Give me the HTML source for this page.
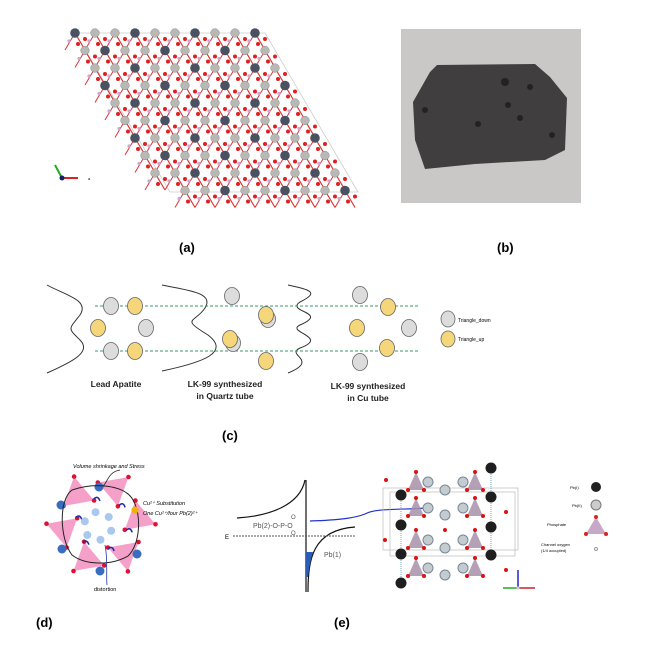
<!DOCTYPE html>
<html><head><style>
body{margin:0;background:#fff;width:660px;height:647px;overflow:hidden}
svg{display:block;font-family:"Liberation Sans",sans-serif}
</style></head><body>
<svg id="s" width="660" height="647" viewBox="0 0 660 647">
<g id="lat"></g>
<line x1="62" y1="178" x2="78" y2="178" stroke="#d22" stroke-width="2"/>
<line x1="62" y1="178" x2="55" y2="165" stroke="#2a2" stroke-width="2"/>
<circle cx="62" cy="178" r="2.5" fill="#126"/>
<text x="88" y="180" font-size="4">a</text>
<rect x="401" y="29" width="180" height="174" fill="#c9c8c6"/>
<polygon points="430,72 437,65 535,64 550,77 567,98 565,150 545,160 475,164 425,169 415,140 413,102" fill="#403e3e"/>
<g fill="#232222"><circle cx="505" cy="82" r="4"/><circle cx="508" cy="105" r="3"/><circle cx="520" cy="118" r="3"/><circle cx="478" cy="124" r="3"/><circle cx="552" cy="135" r="3"/><circle cx="530" cy="87" r="3"/><circle cx="425" cy="110" r="3"/></g>
<text x="179" y="252" font-size="13" font-weight="bold">(a)</text>
<text x="497" y="252" font-size="13" font-weight="bold">(b)</text>
<g fill="none" stroke="#333" stroke-width="1">
<path d="M47,285 C65,295 90,300 80,315 C68,330 68,328 80,340 C92,352 72,362 47,373"/>
<path d="M162,285 C185,290 215,292 205,308 C195,323 180,318 208,335 C230,352 205,362 162,371"/>
<path d="M288,285 C310,290 320,292 300,302 C285,312 330,312 300,325 C285,332 330,337 300,348 C285,355 320,360 288,373"/>
</g>
<g stroke="#3a9a6a" stroke-dasharray="3,2" stroke-width="1"><line x1="95" y1="306" x2="418" y2="306"/><line x1="95" y1="351" x2="418" y2="351"/></g>
<g stroke="#666" stroke-width="0.8">
<g fill="#dcdcdc"><ellipse cx="111" cy="306" rx="7.5" ry="8.5"/><ellipse cx="146" cy="328" rx="7.5" ry="8.5"/><ellipse cx="111" cy="351" rx="7.5" ry="8.5"/><ellipse cx="232" cy="296" rx="7.5" ry="8.5"/><ellipse cx="268" cy="319" rx="7.5" ry="8.5"/><ellipse cx="233" cy="343" rx="7.5" ry="8.5"/><ellipse cx="360" cy="295" rx="7.5" ry="8.5"/><ellipse cx="409" cy="328" rx="7.5" ry="8.5"/><ellipse cx="360" cy="362" rx="7.5" ry="8.5"/><ellipse cx="448" cy="319" rx="7" ry="8"/></g>
<g fill="#f5d67a"><ellipse cx="135" cy="306" rx="7.5" ry="8.5"/><ellipse cx="98" cy="328" rx="7.5" ry="8.5"/><ellipse cx="135" cy="351" rx="7.5" ry="8.5"/><ellipse cx="266" cy="315" rx="7.5" ry="8.5"/><ellipse cx="230" cy="339" rx="7.5" ry="8.5"/><ellipse cx="266" cy="361" rx="7.5" ry="8.5"/><ellipse cx="388" cy="307" rx="7.5" ry="8.5"/><ellipse cx="357" cy="328" rx="7.5" ry="8.5"/><ellipse cx="387" cy="348" rx="7.5" ry="8.5"/><ellipse cx="448" cy="339" rx="7" ry="8"/></g>
</g>
<text x="458" y="322" font-size="5">Triangle_down</text>
<text x="458" y="341" font-size="5">Triangle_up</text>
<g font-size="8.5" font-weight="bold" fill="#222" text-anchor="middle">
<text x="116" y="387">Lead Apatite</text>
<text x="225" y="387">LK-99 synthesized</text><text x="225" y="399">in Quartz tube</text>
<text x="368" y="389">LK-99 synthesized</text><text x="368" y="401">in Cu tube</text>
</g>
<text x="222" y="440" font-size="13" font-weight="bold">(c)</text>
<g id="dd"></g>
<path d="M72,490 C95,482 125,485 133,500 C142,515 140,545 128,556 C110,566 85,565 72,555 C60,540 58,500 72,490Z" fill="none" stroke="#222" stroke-width="1"/>
<path d="M120,470 C108,472 108,482 103,486" fill="none" stroke="#222" stroke-width="0.8"/>
<path d="M105,545 C108,560 106,575 107,585" fill="none" stroke="#2233aa" stroke-width="0.8"/>
<text x="73" y="468" font-size="5.5" font-style="italic">Volume shrinkage and Stress</text>
<text x="143" y="505" font-size="5.5" font-style="italic">Cu²⁺ Substitution</text>
<text x="143" y="515" font-size="5.5" font-style="italic">One Cu²⁺/four Pb(2)²⁺</text>
<circle cx="135" cy="510" r="3.5" fill="#f0b400"/>
<text x="94" y="591" font-size="5.5">distortion</text>
<text x="36" y="627" font-size="13" font-weight="bold">(d)</text>
<line x1="306" y1="480" x2="306" y2="592" stroke="#111" stroke-width="1.2"/>
<path d="M237,518 C270,516 300,505 305,480" fill="none" stroke="#111" stroke-width="1.2"/>
<path d="M308,592 C308,560 312,530 355,527" fill="none" stroke="#111" stroke-width="1.2"/>
<path d="M306,552 L313,552 C310,562 309,570 308,577 L306,577Z" fill="#2a5db5"/>
<line x1="233" y1="536" x2="356" y2="536" stroke="#555" stroke-dasharray="2,1"/>
<text x="225" y="539" font-size="6">E</text>
<text x="253" y="528" font-size="7" fill="#555">Pb(2)-O-P-O</text>
<text x="291" y="519" font-size="6" fill="#555">O</text><text x="291" y="535" font-size="6" fill="#555">O</text>
<text x="324" y="557" font-size="7" fill="#555">Pb(1)</text>
<path d="M310,521 C340,520 355,518 365,514 C375,508 400,510 427,508" fill="none" stroke="#2233cc" stroke-width="1.2"/>
<g fill="none" stroke="#bbb" stroke-width="0.7"><rect x="383" y="488" width="135" height="62"/><rect x="390" y="492" width="125" height="64"/></g>
<g id="cr"></g>
<line x1="518" y1="588" x2="518" y2="570" stroke="#22c" stroke-width="1.5"/>
<line x1="518" y1="588" x2="535" y2="588" stroke="#c22" stroke-width="1.5"/>
<line x1="518" y1="588" x2="503" y2="588" stroke="#2a2" stroke-width="1.5"/>
<circle cx="518" cy="588" r="1.5" fill="#ccd"/>
<text x="570" y="489" font-size="4">Pb(I)</text><circle cx="596" cy="487" r="5" fill="#222"/>
<text x="572" y="507" font-size="4">Pb(II)</text><circle cx="596" cy="505" r="5" fill="#ccc" stroke="#777"/>
<text x="547" y="526" font-size="4">Phosphate</text>
<polygon points="596,517 586,534 606,534" fill="#c8a8c8"/>
<circle cx="596" cy="517" r="2" fill="#d22"/><circle cx="586" cy="534" r="2" fill="#d22"/><circle cx="606" cy="534" r="2" fill="#d22"/>
<text x="541" y="546" font-size="4">Channel oxygen</text><text x="541" y="552" font-size="4">(1/4 occupied)</text>
<circle cx="596" cy="549" r="1.5" fill="#fff" stroke="#999"/>
<text x="334" y="627" font-size="13" font-weight="bold">(e)</text>
</svg>
<script>
var NS="http://www.w3.org/2000/svg";
function el(p,t,a){var e=document.createElementNS(NS,t);for(var k in a)e.setAttribute(k,a[k]);p.appendChild(e);return e}
var L=document.getElementById("lat");
function inP(x,y){var t=(y-33)/159;if(t<-0.02||t>1.02)return false;var xl=75+95*t;return x>xl-4&&x<xl+194;}
el(L,"polygon",{points:"75,33 265,33 358,192 170,192",fill:"none",stroke:"#ccc","stroke-width":"0.8"});
var pts=[];
for(var j=0;j<10;j++)for(var i=-6;i<14;i++){var x=75+i*20+j*10,y=33+j*17.5;if(inP(x,y))pts.push([x,y,((i-j)%3+3)%3==0]);}
pts.forEach(function(p){
 el(L,"line",{x1:p[0],y1:p[1],x2:p[0]+10,y2:p[1]+17,stroke:"#d33","stroke-width":"1.2"});
 el(L,"line",{x1:p[0],y1:p[1],x2:p[0]-10,y2:p[1]+17,stroke:"#d33","stroke-width":"1"});
});
pts.forEach(function(p){
 el(L,"circle",{cx:p[0]+10,cy:p[1]+6,r:2,fill:"#e02020"});
 el(L,"circle",{cx:p[0]+3,cy:p[1]+11,r:2,fill:"#e02020"});
 el(L,"circle",{cx:p[0]-6,cy:p[1]+8,r:1.6,fill:"#c9a8d6"});
 if(p[2])el(L,"circle",{cx:p[0],cy:p[1],r:4.8,fill:"#4a5262"});
 else el(L,"circle",{cx:p[0],cy:p[1],r:4.3,fill:"#b8b8b4",stroke:"#888","stroke-width":"0.5"});
});
var D=document.getElementById("dd"),cx=101,cy=524;
for(var k=0;k<6;k++){var a=k*Math.PI/3-1.2,r=38;var x=cx+r*Math.cos(a),y=cy+r*Math.sin(a);
 var q=[];for(var m=0;m<3;m++){var b=a+m*2.094+0.5;q.push((x+18*Math.cos(b)).toFixed(1)+","+(y+18*Math.sin(b)).toFixed(1));}
 el(D,"polygon",{points:q.join(" "),fill:"#f4a0c8"});
 q.forEach(function(s){var c=s.split(",");el(D,"circle",{cx:c[0],cy:c[1],r:2.3,fill:"#e01030"});});
 el(D,"path",{d:"M"+(cx+26*Math.cos(a+0.4))+","+(cy+26*Math.sin(a+0.4))+" q4,-4 6,2",stroke:"#1a2aaa",fill:"none","stroke-width":"1.5"});
 el(D,"circle",{cx:cx-3+14*Math.cos(a+0.5),cy:cy+2+14*Math.sin(a+0.5),r:4,fill:"#a8c8ee"});
}
[[99,487],[61,505],[62,549],[100,571],[137,554]].forEach(function(p){el(D,"circle",{cx:p[0],cy:p[1],r:4.5,fill:"#3a6cc0"});});
var C=document.getElementById("cr");
[[401,[495,525,554,583]],[491,[468,497,527,555]]].forEach(function(c){c[1].forEach(function(y,n){if(n<3)el(C,"line",{x1:c[0],y1:y,x2:c[0],y2:y+29,stroke:"#7ab","stroke-dasharray":"1,1"});});});
[[428,482],[463,482],[428,508],[463,508],[428,540],[463,540],[428,568],[463,568]].forEach(function(p,i){
 var d=i%2?12:-12;
 var q=(p[0]+d)+","+(p[1]-10)+" "+(p[0]+d-8)+","+(p[1]+8)+" "+(p[0]+d+8)+","+(p[1]+8);
 el(C,"polygon",{points:q,fill:"#a890a8",opacity:0.85});
 q.split(" ").forEach(function(s){var c=s.split(",");el(C,"circle",{cx:c[0],cy:c[1],r:2,fill:"#d11"});});
 el(C,"circle",{cx:p[0],cy:p[1],r:5,fill:"#c4ccd0",stroke:"#789"});
});
[[445,490],[445,515],[445,548],[445,575]].forEach(function(p){el(C,"circle",{cx:p[0],cy:p[1],r:5,fill:"#c4ccd0",stroke:"#789"});});
[[401,495],[401,525],[401,554],[401,583],[491,468],[491,497],[491,527],[491,555]].forEach(function(p){el(C,"circle",{cx:p[0],cy:p[1],r:5.5,fill:"#1e1e1e"});});
[[386,480],[385,540],[506,512],[506,570],[445,530]].forEach(function(p){el(C,"circle",{cx:p[0],cy:p[1],r:2,fill:"#d11"});});
</script>
</body></html>
